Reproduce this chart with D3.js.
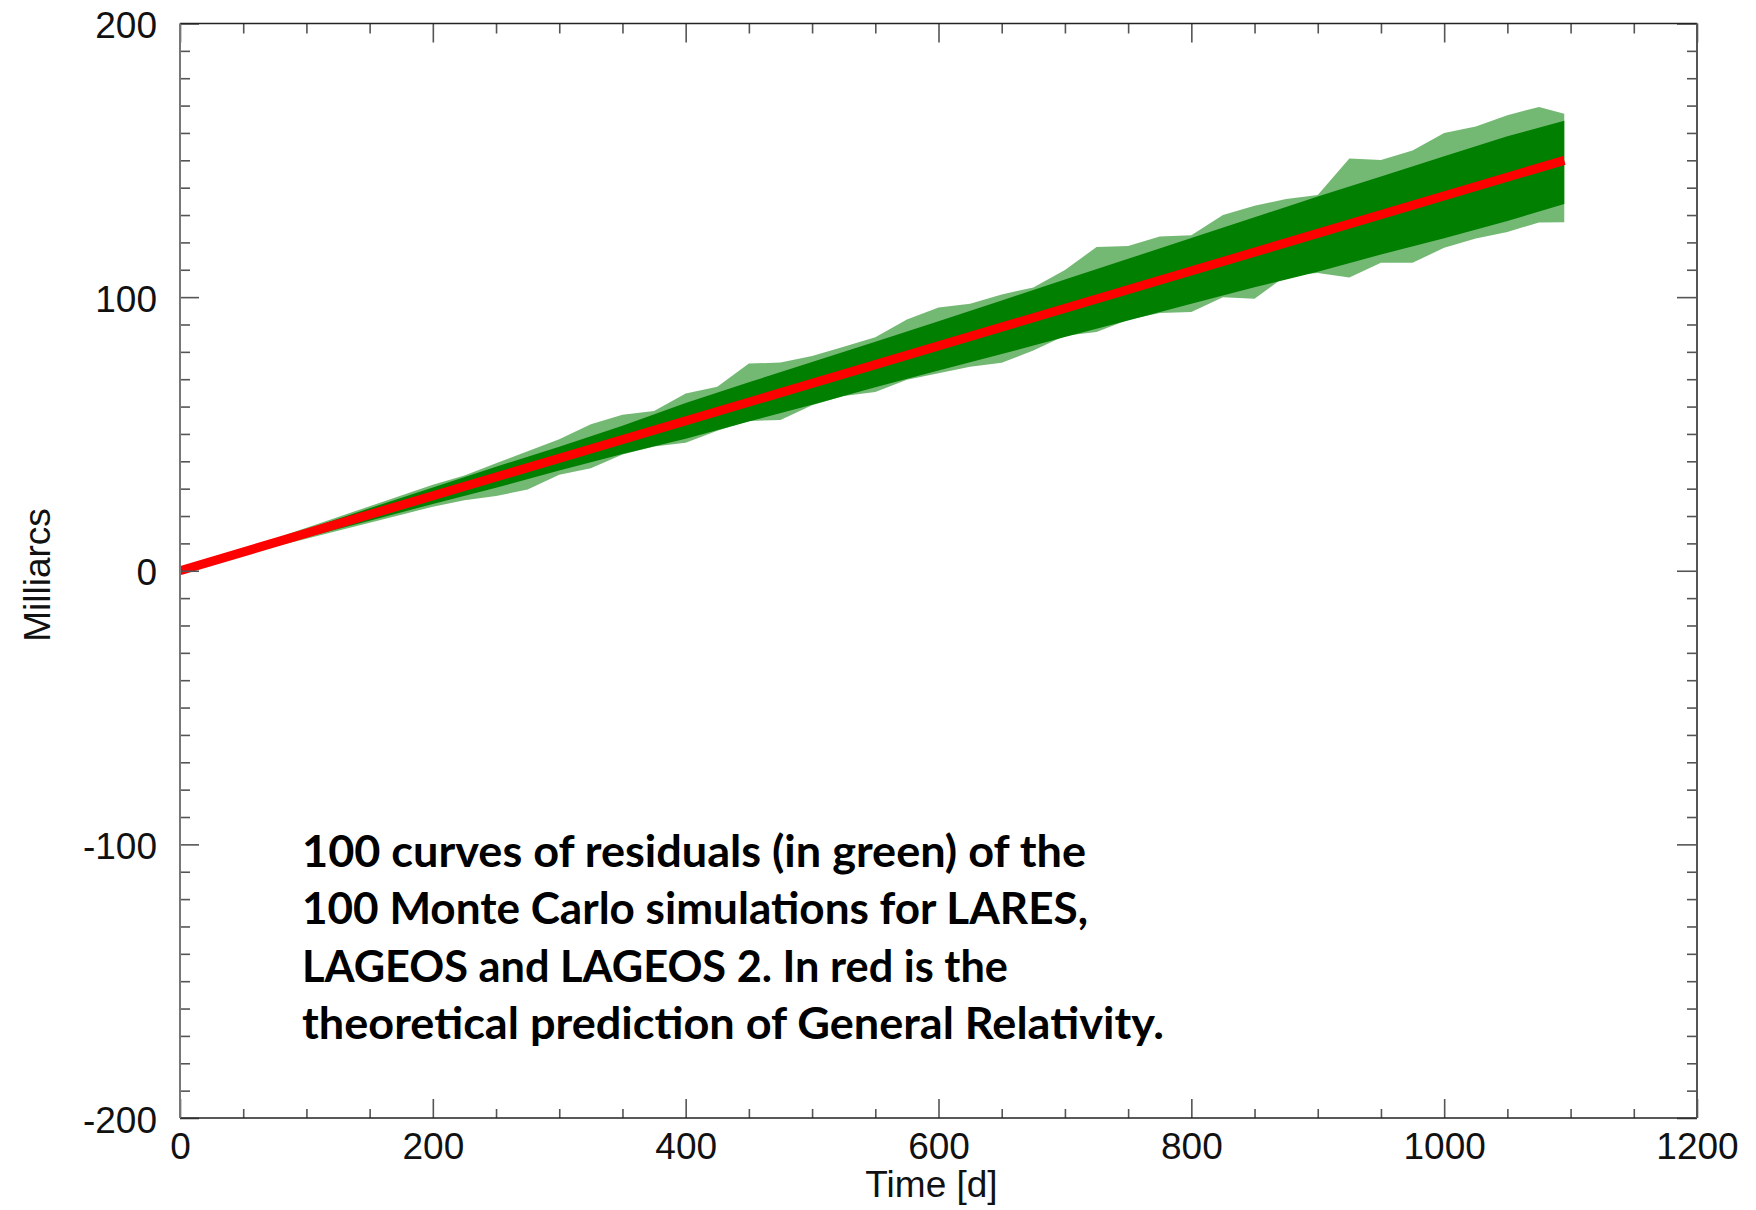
<!DOCTYPE html>
<html><head><meta charset="utf-8">
<script src="https://cdn.jsdelivr.net/npm/d3@7"></script>
<style>html,body{margin:0;padding:0;background:#fff;} svg{display:block;}</style>
</head><body>
<svg id="chart" width="1756" height="1210"></svg>
<script>
// ---- data ----
// outer envelope of the 100 Monte Carlo residual curves (green), milliarcs
const bandDays  = [0,25,50,75,100,125,150,175,200,225,250,275,300,325,350,375,400,425,450,475,500,525,550,575,600,625,650,675,700,725,750,775,800,825,850,875,900,925,950,975,1000,1025,1050,1075,1095];
const bandUpper = [0,3.9,7.9,11.8,15.7,19.6,23.6,27.5,31.4,34.8,39.3,43.7,48.1,53.5,57.0,58.4,64.8,67.2,75.7,76.1,78.5,81.9,85.3,91.8,96.2,97.6,101.0,103.5,109.9,118.3,118.7,122.2,122.6,130.0,133.4,135.9,137.3,150.7,150.1,153.6,160.0,162.4,166.5,169.5,167.0];
const bandLower = [0,2.9,5.8,8.8,11.7,14.6,17.5,20.5,23.4,25.8,27.3,29.7,35.1,37.5,42.5,45.4,46.8,51.2,54.7,55.1,60.5,63.9,65.3,69.8,72.2,74.6,76.0,80.5,85.9,87.3,91.7,94.2,94.6,100.0,99.4,107.9,108.8,107.2,112.6,112.6,118.0,121.4,123.8,127.3,127.4];
// dense core of the green cloud
const coreDays  = [0,50,100,150,200,250,300,350,400,450,500,550,600,650,700,750,800,850,900,950,1000,1050,1095];
const coreUpper = [0,7.6,15.2,22.8,30.4,38.0,45.3,53.0,61.3,68.9,76.3,83.7,91.2,98.8,106.4,114.0,121.6,129.2,136.8,144.1,151.5,158.8,164.5];
const coreLower = [0,6.1,12.2,18.3,24.4,30.3,36.6,42.7,48.2,54.5,60.7,67.1,73.2,79.2,85.4,91.5,97.6,103.6,109.3,115.6,121.5,127.8,134.0];
// theoretical GR prediction (red)
const predictionDays   = [0, 1095];
const predictionValues = [0, 150];
// axes
const xTickValues = [0,200,400,600,800,1000,1200];
const xTickLabels = ["0","200","400","600","800","1000","1200"];
const yTickValues = [-200,-100,0,100,200];
const yTickLabels = ["-200","-100","0","100","200"];
const xMinorStep = 50, yMinorStep = 10;
const xTitle = "Time [d]";
const yTitle = "Milliarcs";
const noteLines = [
  "100 curves of residuals (in green) of the",
  "100 Monte Carlo simulations for LARES,",
  "LAGEOS and LAGEOS 2. In red is the",
  "theoretical prediction of General Relativity."
];

// ---- layout ----
const svg = d3.select("#chart");
const L = 180, R = 1697, T = 23.5, B = 1118;
const x = d3.scaleLinear().domain([0,1200]).range([L,R]);
const y = d3.scaleLinear().domain([-200,200]).range([B,T]);
const FONT = "'Liberation Sans', Arial, Helvetica, sans-serif";
const FS = 37;

// green cloud
const outer = bandDays.map((d,i)=>({d, hi:bandUpper[i], lo:bandLower[i]}));
const core  = coreDays.map((d,i)=>({d, hi:coreUpper[i], lo:coreLower[i]}));
const area = d3.area().x(p=>x(p.d)).y0(p=>y(p.lo)).y1(p=>y(p.hi));
svg.append("path").datum(outer).attr("d", area).attr("fill","#008000").attr("fill-opacity",0.55);
svg.append("path").datum(core).attr("d", area).attr("fill","#007f00");

// red prediction line
const pred = predictionDays.map((d,i)=>({d, v:predictionValues[i]}));
svg.append("path").datum(pred)
  .attr("d", d3.line().x(p=>x(p.d)).y(p=>y(p.v)))
  .attr("fill","none").attr("stroke","#ff0000").attr("stroke-width",9);

// ---- axes ----
const tickColor = "#555";
function styleAxis(g){
  g.select(".domain").remove();
  g.selectAll(".tick line").attr("stroke",tickColor).attr("stroke-width",1.6);
}
const xMinor = d3.range(0,1201,xMinorStep).filter(v=>!xTickValues.includes(v));
const yMinor = d3.range(-200,201,yMinorStep).filter(v=>!yTickValues.includes(v));

// bottom
svg.append("g").attr("transform",`translate(0,${B})`)
  .call(d3.axisBottom(x).tickValues(xMinor).tickSize(-9).tickFormat("")).call(styleAxis);
const gxb = svg.append("g").attr("transform",`translate(0,${B})`)
  .call(d3.axisBottom(x).tickValues(xTickValues).tickSize(-19)
    .tickFormat((d,i)=>xTickLabels[i])).call(styleAxis);
gxb.selectAll(".tick text").attr("y",41).attr("dy",null)
  .attr("font-family",FONT).attr("font-size",FS).attr("fill","#111");
// top
svg.append("g").attr("transform",`translate(0,${T})`)
  .call(d3.axisTop(x).tickValues(xMinor).tickSize(-10).tickFormat("")).call(styleAxis);
svg.append("g").attr("transform",`translate(0,${T})`)
  .call(d3.axisTop(x).tickValues(xTickValues).tickSize(-19).tickFormat("")).call(styleAxis);
// left
svg.append("g").attr("transform",`translate(${L},0)`)
  .call(d3.axisLeft(y).tickValues(yMinor).tickSize(-10).tickFormat("")).call(styleAxis);
const gyl = svg.append("g").attr("transform",`translate(${L},0)`)
  .call(d3.axisLeft(y).tickValues(yTickValues).tickSize(-19)
    .tickFormat((d,i)=>yTickLabels[i])).call(styleAxis);
gyl.selectAll(".tick text").attr("x",-23).attr("dy","0.38em")
  .attr("font-family",FONT).attr("font-size",FS).attr("fill","#111");
// right
svg.append("g").attr("transform",`translate(${R},0)`)
  .call(d3.axisRight(y).tickValues(yMinor).tickSize(-10).tickFormat("")).call(styleAxis);
svg.append("g").attr("transform",`translate(${R},0)`)
  .call(d3.axisRight(y).tickValues(yTickValues).tickSize(-20).tickFormat("")).call(styleAxis);

// frame
svg.append("line").attr("x1",L).attr("x2",R).attr("y1",T).attr("y2",T).attr("stroke","#222").attr("stroke-width",1.5);
svg.append("line").attr("x1",L).attr("x2",R).attr("y1",B).attr("y2",B).attr("stroke","#222").attr("stroke-width",1.5);
svg.append("line").attr("x1",L).attr("x2",L).attr("y1",T).attr("y2",B).attr("stroke","#777").attr("stroke-width",2);
svg.append("line").attr("x1",R).attr("x2",R).attr("y1",T).attr("y2",B).attr("stroke","#555").attr("stroke-width",2);

// titles
svg.append("text").attr("x",(L+R)/2 - 7).attr("y",1197).attr("text-anchor","middle")
  .attr("font-family",FONT).attr("font-size",FS).attr("fill","#111").text(xTitle);
svg.append("text").attr("transform",`translate(50,${575}) rotate(-90)`).attr("text-anchor","middle")
  .attr("font-family",FONT).attr("font-size",FS).attr("fill","#111").text(yTitle);

// annotation
const note = svg.append("g").attr("font-family","Lato, 'Open Sans', sans-serif")
  .attr("font-weight",700).attr("fill","#000");
const baselines = [867, 924, 982, 1039];
const lineWidths = [784, 786, 706, 862];
noteLines.forEach((t,i)=>note.append("text").attr("x",302).attr("y",baselines[i])
  .attr("font-size",44).attr("textLength",lineWidths[i]).attr("lengthAdjust","spacingAndGlyphs").text(t));
</script>
</body></html>
